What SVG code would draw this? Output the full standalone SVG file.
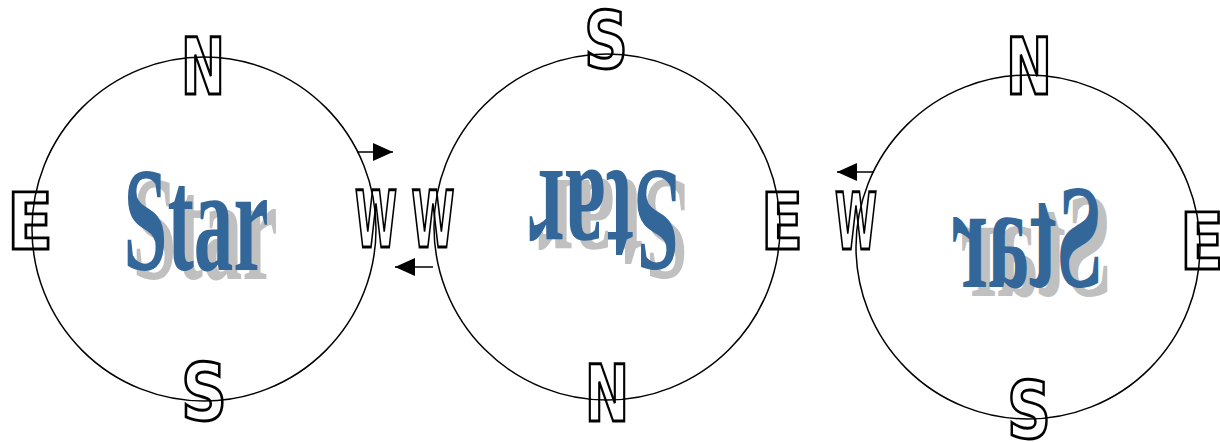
<svg xmlns="http://www.w3.org/2000/svg" width="1220" height="442" viewBox="0 0 1220 442">
  <style>
    .ring { fill: none; stroke: #000; stroke-width: 1.5; }
    .dir { font-family: "DejaVu Sans", "Liberation Sans", sans-serif; font-stretch: condensed; font-weight: bold; font-size: 60px; fill: none; stroke: #000; stroke-width: 2.2; text-anchor: middle; }
    .star { font-family: "Liberation Serif", "Times New Roman", serif; font-weight: bold; font-size: 148px; text-anchor: middle; }
    .main { fill: #336699; }
    .shadow { fill: #c0c0c0; }
    .arrow { stroke: #000; stroke-width: 1.5; fill: none; }
  </style>
  <defs>
    <marker id="head" markerUnits="userSpaceOnUse" markerWidth="22" markerHeight="20" refX="20" refY="9" orient="auto">
      <path d="M0,0 L20,9 L0,18 Z" fill="#000"/>
    </marker>
  </defs>

  <g id="circle1">
    <circle class="ring" cx="204" cy="229" r="172"/>
    <g transform="translate(196,221)">
      <text class="star shadow" x="9" y="58" textLength="145" lengthAdjust="spacingAndGlyphs">Star</text>
      <text class="star main" x="0" y="49" textLength="145" lengthAdjust="spacingAndGlyphs">Star</text>
    </g>
    <text class="dir" transform="translate(203,94) scale(1,1.3)" textLength="44" lengthAdjust="spacingAndGlyphs">N</text>
    <text class="dir" transform="translate(30,249) scale(1,1.3)" textLength="46" lengthAdjust="spacingAndGlyphs">E</text>
    <text class="dir" transform="translate(376,247) scale(1,1.3)" textLength="42" lengthAdjust="spacingAndGlyphs">W</text>
    <text class="dir" transform="translate(204,420) scale(1,1.3)" textLength="46" lengthAdjust="spacingAndGlyphs">S</text>
  </g>

  <g id="circle2">
    <circle class="ring" cx="607" cy="227" r="173"/>
    <g transform="translate(604,220) rotate(180)">
      <text class="star shadow" x="-9" y="40" textLength="152" lengthAdjust="spacingAndGlyphs">Star</text>
      <text class="star main" x="0" y="49" textLength="152" lengthAdjust="spacingAndGlyphs">Star</text>
    </g>
    <text class="dir" transform="translate(606,68) scale(1,1.3)" textLength="44" lengthAdjust="spacingAndGlyphs">S</text>
    <text class="dir" transform="translate(433,247) scale(1,1.3)" textLength="43" lengthAdjust="spacingAndGlyphs">W</text>
    <text class="dir" transform="translate(782,249) scale(1,1.3)" textLength="42" lengthAdjust="spacingAndGlyphs">E</text>
    <text class="dir" transform="translate(607,421) scale(1,1.3)" textLength="44" lengthAdjust="spacingAndGlyphs">N</text>
  </g>

  <g id="circle3">
    <circle class="ring" cx="1028" cy="247" r="172"/>
    <g transform="translate(1027,238) scale(-1,1)">
      <text class="star shadow" x="-9" y="58" textLength="151" lengthAdjust="spacingAndGlyphs">Star</text>
      <text class="star main" x="0" y="49" textLength="151" lengthAdjust="spacingAndGlyphs">Star</text>
    </g>
    <text class="dir" transform="translate(1029,94) scale(1,1.3)" textLength="46" lengthAdjust="spacingAndGlyphs">N</text>
    <text class="dir" transform="translate(856,249) scale(1,1.3)" textLength="42" lengthAdjust="spacingAndGlyphs">W</text>
    <text class="dir" transform="translate(1202,269) scale(1,1.3)" textLength="44" lengthAdjust="spacingAndGlyphs">E</text>
    <text class="dir" transform="translate(1029,438) scale(1,1.3)" textLength="44" lengthAdjust="spacingAndGlyphs">S</text>
  </g>

  <g id="connectors">
    <line class="arrow" x1="357" y1="152" x2="393" y2="152" marker-end="url(#head)"/>
    <line class="arrow" x1="433" y1="267" x2="395" y2="267" marker-end="url(#head)"/>
    <line class="arrow" x1="873" y1="172" x2="837" y2="172" marker-end="url(#head)"/>
  </g>
</svg>
